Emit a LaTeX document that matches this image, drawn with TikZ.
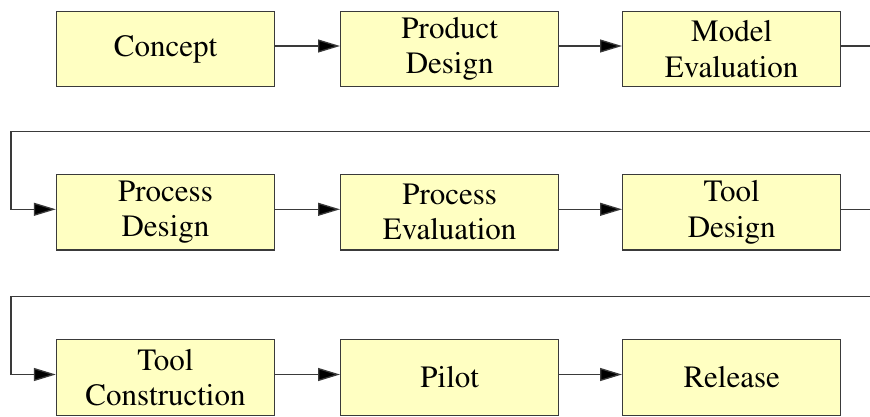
\documentclass[tikz,border=0pt]{standalone}
\usepackage[T1]{fontenc}
\usepackage{mathptmx}
\usetikzlibrary{arrows.meta}

\definecolor{boxfill}{HTML}{FFFFC2}
\definecolor{edgegray}{HTML}{3A3A3A}

\begin{document}
\begin{tikzpicture}[x=1pt,y=1pt,
    stage/.style={draw=edgegray,line width=1.4pt,fill=boxfill,minimum width=218pt,
        minimum height=75.5pt,inner sep=0pt,align=center,
        font=\fontsize{31}{35.5}\selectfont},
    flow/.style={draw=edgegray,line width=1.3pt,-{Triangle[length=22pt,width=13pt,fill=black]}}]

    \useasboundingbox (0,0) rectangle (870,416);
    \clip (0,0) rectangle (870,416);

    % first row
    \node[stage] (concept) at (165.5,367) {Concept};
    \node[stage] (proddes) at (449.7,367) {Product\\Design};
    \node[stage] (modeval) at (731.7,367) {Model\\Evaluation};

    % second row
    \node[stage] (procdes) at (165.5,203.7) {Process\\Design};
    \node[stage] (proceval) at (449.7,203.7) {Process\\Evaluation};
    \node[stage] (tooldes) at (731.7,203.7) {Tool\\Design};

    % third row
    \node[stage] (toolcon) at (165.5,38.5) {Tool\\Construction};
    \node[stage] (pilot) at (449.7,38.5) {Pilot};
    \node[stage] (release) at (731.7,38.5) {Release};

    \coordinate (wrapA) at (11,284.3);
    \coordinate (wrapB) at (11,119.3);

    \draw[flow] ([yshift=3pt]concept.east) -- ([yshift=3pt]proddes.west);
    \draw[flow] ([yshift=3pt]proddes.east) -- ([yshift=3pt]modeval.west);
    \draw[flow] ([yshift=3pt]modeval.east) -- ++(45,0) |- (wrapA) |- ([yshift=3pt]procdes.west);

    \draw[flow] ([yshift=3pt]procdes.east) -- ([yshift=3pt]proceval.west);
    \draw[flow] ([yshift=3pt]proceval.east) -- ([yshift=3pt]tooldes.west);
    \draw[flow] ([yshift=3pt]tooldes.east) -- ++(45,0) |- (wrapB) |- ([yshift=3pt]toolcon.west);

    \draw[flow] ([yshift=3pt]toolcon.east) -- ([yshift=3pt]pilot.west);
    \draw[flow] ([yshift=3pt]pilot.east) -- ([yshift=3pt]release.west);

\end{tikzpicture}
\end{document}
